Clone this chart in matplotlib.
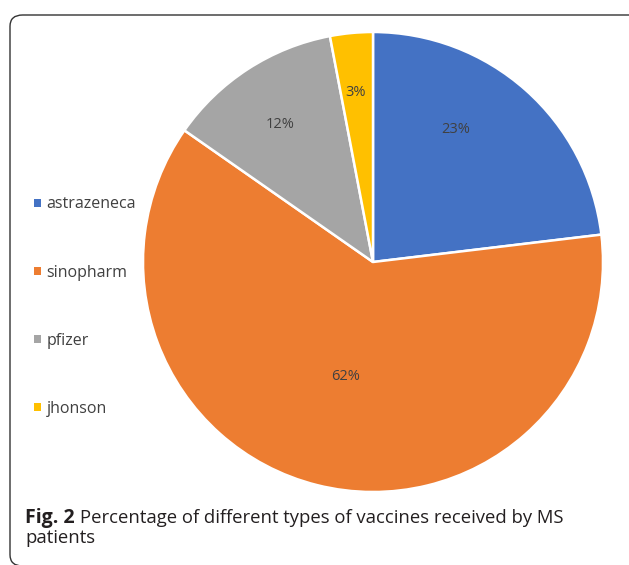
import numpy as np
import matplotlib
matplotlib.use('Agg')
import matplotlib.pyplot as plt
from matplotlib.patches import FancyBboxPatch

#------------------------------
vaccines	= ['astrazeneca', 'sinopharm', 'pfizer', 'jhonson']
shares		= [23.1, 61.6, 12.3, 3.0]	# leido a ojo del grafico
colors		= ['#4472C4', '#ED7D31', '#A5A5A5', '#FFC000']
lbl_r		= [0.68, 0.51, 0.72, 0.74]	# distancia de las etiquetas
lbl_dang	= [9.5, 0.5, 1.0, 0.6]		# corrimiento angular (grados)
caption_bold	= 'Fig. 2'
caption_text	= 'Percentage of different types of vaccines received by MS'
caption_line2	= 'patients'
#------------------------------
plt.rcParams['font.family'] = ['Open Sans', 'DejaVu Sans']

W, H	= 629, 565
fig	= plt.figure(figsize=(W/100., H/100.), dpi=100)

# marco redondeado
frame = FancyBboxPatch((10./W, -1./H), 1.2, 1 - 14./H,
		boxstyle='round,pad=0,rounding_size=0.02',
		transform=fig.transFigure, facecolor='none',
		edgecolor='#333333', linewidth=1.0)
fig.patches.append(frame)

cx, cy, R = 373., 262., 230.
ax = fig.add_axes([(cx-R)/W, 1-(cy+R)/H, 2*R/W, 2*R/H])
wedges, _ = ax.pie(shares, colors=colors, startangle=90, counterclock=False,
		radius=1.0, wedgeprops=dict(edgecolor='white', linewidth=1.8))
ax.set_xlim(-1, 1)
ax.set_ylim(-1, 1)
ax.set_aspect('auto')
ax.axis('off')

for w, s, r, da in zip(wedges, shares, lbl_r, lbl_dang):
	ang = np.deg2rad(0.5*(w.theta1 + w.theta2) + da)
	ax.text(r*np.cos(ang), r*np.sin(ang), '%d%%' % round(s),
		ha='center', va='center', fontsize=10.5, color='#404040')

leg = fig.legend(wedges, vaccines, loc='upper left',
		bbox_to_anchor=(20./W, 1-182./H), frameon=False,
		fontsize=11.5, labelcolor='#404040',
		handlelength=0.42, handleheight=0.42, handletextpad=0.35,
		labelspacing=3.27)
for hnd in leg.legend_handles:
	hnd.set_edgecolor('none')

# pie de figura
t1 = fig.text(25./W, 1-518./H, caption_bold, fontsize=14, fontweight='bold',
	color='#231f20', ha='left', va='center')
fig.canvas.draw()
bb = t1.get_window_extent()
fig.text((bb.x1 + 5.)/W, 1-518./H, caption_text, fontsize=13.3,
	color='#231f20', ha='left', va='center')
fig.text(25./W, 1-538./H, caption_line2, fontsize=13.3,
	color='#231f20', ha='left', va='center')

fig.savefig('out.png', dpi=100)
